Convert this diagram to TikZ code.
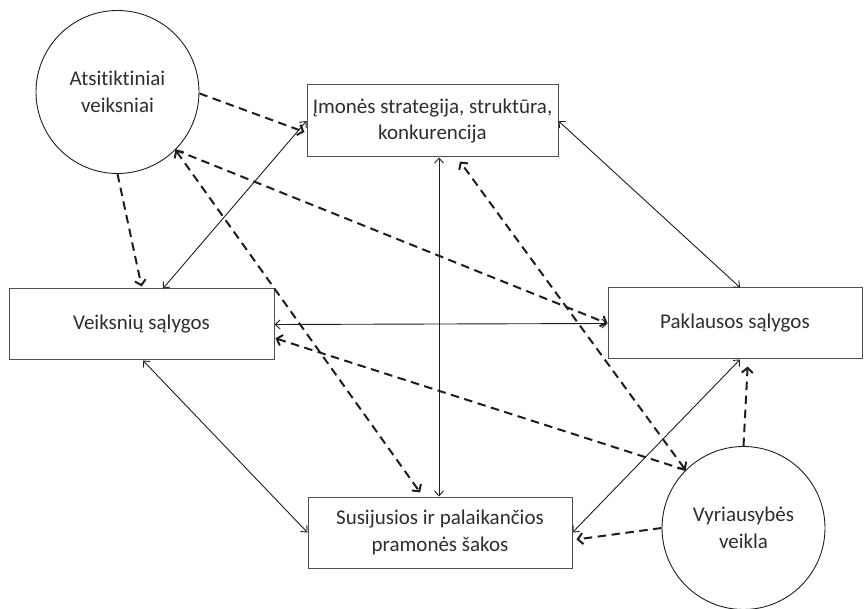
\documentclass[tikz,border=0pt]{standalone}
\usepackage{fontspec}
\setmainfont{Carlito}[Ligatures=NoCommon]
\usetikzlibrary{arrows.meta}
\definecolor{ink}{HTML}{1E1E1E}
\definecolor{txt}{HTML}{2E2E2E}
\definecolor{frame}{HTML}{505050}
\begin{document}
\begin{tikzpicture}[x=1pt,y=-1pt,
  lbl/.style={text=txt, align=center, font=\fontsize{21}{26.5}\selectfont},
  factor/.style={lbl, draw=frame, line width=1pt, fill=white, inner sep=0pt},
  outer/.style={lbl, draw=ink, line width=0.9pt, circle, inner sep=0pt, minimum size=163pt},
  link/.style={draw=ink, line width=0.9pt,
    {Straight Barb[length=5pt,width=9pt]}-{Straight Barb[length=5pt,width=9pt]}},
  influence/.style={draw=ink, line width=2pt, dash pattern=on 8.5pt off 5.5pt,
    -{Straight Barb[length=5pt,width=11pt]}},
  twoway/.style={{Straight Barb[length=5pt,width=11pt]}-{Straight Barb[length=5pt,width=11pt]}}
]
\useasboundingbox (0,0) rectangle (865,609);

% the four corners of the diamond
\node[factor, minimum width=251pt, minimum height=72pt] (imones) at (432.5,121)
  {Įmonės strategija, struktūra,\\konkurencija};
\node[factor, minimum width=265pt, minimum height=71pt] (veik) at (141.5,324.5)
  {Veiksnių sąlygos};
\node[factor, minimum width=254pt, minimum height=71pt] (pak) at (735,323.5)
  {Paklausos sąlygos};
\node[factor, minimum width=264pt, minimum height=71pt] (sus) at (440,532.5)
  {Susijusios ir palaikančios\\pramonės šakos};

% outside influences
\node[outer] (ats) at (117.5,92) {Atsitiktiniai\\veiksniai};
\node[outer] (vyr) at (743.5,528) {Vyriausybės\\veikla};

% mutual links inside the diamond
\draw[link] ([xshift=21.5pt]veik.north) -- (imones.west);
\draw[link] (imones.east) -- ([xshift=5pt]pak.north);
\draw[link] ([xshift=6.5pt]imones.south) -- ([xshift=-1pt]sus.north);
\draw[link] (veik.east) -- (pak.west);
\draw[link] ([xshift=1.5pt]veik.south) -- (sus.west);
\draw[link] ([xshift=5pt]pak.south) -- (sus.east);

% chance events
\draw[influence] (ats.-1) -- ([yshift=-11pt,xshift=-2pt]imones.west);
\draw[influence, shorten >=2pt] (ats.south) -- ([xshift=0.5pt]veik.north);
\draw[influence] (ats.-45) -- (pak.west);
\draw[influence, twoway, shorten >=5pt] (ats.-45) -- ([xshift=-17pt]sus.north);

% government
\draw[influence, shorten >=1pt] (vyr.135) -- ([yshift=-13.5pt]veik.east);
\draw[influence, twoway, shorten >=5pt] (vyr.135) -- ([xshift=24.5pt]imones.south);
\draw[influence, shorten >=4pt] (vyr.west) -- ([yshift=-7.5pt]sus.east);
\draw[influence, shorten >=7pt] (vyr.north) -- ([xshift=13pt]pak.south);
\end{tikzpicture}
\end{document}
